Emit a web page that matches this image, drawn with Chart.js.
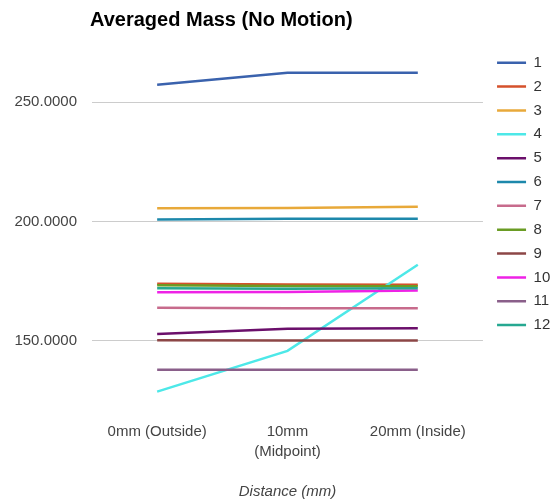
<!DOCTYPE html>
<html>
<head>
<meta charset="utf-8">
<script src="https://cdn.jsdelivr.net/npm/chart.js@4"></script>
<style>
  html, body { margin: 0; padding: 0; background: #fff; }
  #wrap { width: 555px; height: 504px; }
</style>
</head>
<body>
<div id="wrap"><canvas id="c" width="555" height="504"></canvas></div>
<script>
// ---- data ----
const categories = ['0mm (Outside)', ['10mm', '(Midpoint)'], '20mm (Inside)'];
const seriesNames = ['1', '2', '3', '4', '5', '6', '7', '8', '9', '10', '11', '12'];
const s1  = [257.3, 262.4, 262.4];
const s2  = [173.9, 173.5, 173.4];
const s3  = [205.5, 205.6, 206.1];
const s4  = [128.6, 145.7, 181.8];
const s5  = [152.8, 155.0, 155.2];
const s6  = [200.8, 201.1, 201.1];
const s7  = [163.8, 163.6, 163.6];
const s8  = [173.2, 172.9, 172.8];
const s9  = [150.2, 150.1, 150.1];
const s10 = [170.3, 170.4, 171.0];
const s11 = [137.8, 137.8, 137.8];
const s12 = [172.0, 171.8, 172.0];
const yTickValues = [150, 200, 250];

const seriesValues = [s1, s2, s3, s4, s5, s6, s7, s8, s9, s10, s11, s12];
const colors = ['#3a62ad', '#d5512b', '#e8a93a', '#4de8e8', '#6b0f6b', '#1d88ab',
                '#c76b8c', '#6a9c24', '#8c4646', '#ee22e6', '#8a5f8a', '#26a891'];

const FONT = "'Liberation Sans', Arial, Helvetica, sans-serif";

const datasets = seriesNames.map((name, i) => ({
  label: name,
  data: seriesValues[i],
  borderColor: colors[i],
  backgroundColor: colors[i],
  borderWidth: 2.5,
  pointRadius: 0,
  pointHoverRadius: 0,
  tension: 0,
  fill: false,
  order: -i
}));

const placeBoxes = {
  id: 'placeBoxes',
  afterLayout(chart) {
    const lg = chart.legend;
    if (lg) {
      const w = lg.right - lg.left;
      lg.left = 488.2; lg.right = lg.left + w;
      const h = lg.bottom - lg.top;
      lg.top = 46.4; lg.bottom = lg.top + h;
    }
    const t = chart.titleBlock;
    if (t) {
      const w = t.right - t.left;
      t.left = 90; t.right = 90 + w;
    }
  }
};

new Chart(document.getElementById('c'), {
  type: 'line',
  data: { labels: categories, datasets },
  plugins: [placeBoxes],
  options: {
    responsive: false,
    animation: false,
    layout: { padding: 0 },
    plugins: {
      title: {
        display: true,
        text: 'Averaged Mass (No Motion)',
        align: 'start',
        color: '#000',
        font: { family: FONT, size: 20, weight: 'bold', lineHeight: 1.2 },
        padding: { top: 8.7, bottom: 27.3 }
      },
      legend: {
        display: true,
        position: 'right',
        align: 'start',
        maxWidth: 74.5,
        labels: {
          usePointStyle: true,
          pointStyle: 'line',
          pointStyleWidth: 29,
          padding: 8.85,
          color: '#333',
          font: { family: FONT, size: 15 },
          sort: (a, b) => a.datasetIndex - b.datasetIndex
        }
      },
      tooltip: { enabled: false }
    },
    scales: {
      x: {
        offset: true,
        grid: { display: false, drawTicks: false },
        border: { display: false },
        ticks: {
          color: '#444',
          font: { family: FONT, size: 15, lineHeight: 1.33 },
          padding: 11.7,
          maxRotation: 0,
          autoSkip: false
        },
        title: {
          display: true,
          text: 'Distance (mm)',
          color: '#444',
          font: { family: FONT, size: 15, style: 'italic', lineHeight: 1.2 },
          padding: { top: 0, bottom: 3.3 }
        },
        afterFit(scale) { scale.height = 94; }
      },
      y: {
        min: 120.9,
        max: 267.7,
        grid: { color: '#cccccc', lineWidth: 1, drawTicks: false },
        border: { display: false },
        afterBuildTicks(axis) { axis.ticks = yTickValues.map(v => ({ value: v })); },
        ticks: {
          color: '#444',
          padding: 15,
          font: { family: FONT, size: 15 },
          callback: (v) => Number(v).toFixed(4)
        },
        afterFit(scale) { scale.width = 92; }
      }
    }
  }
});
</script>
</body>
</html>
